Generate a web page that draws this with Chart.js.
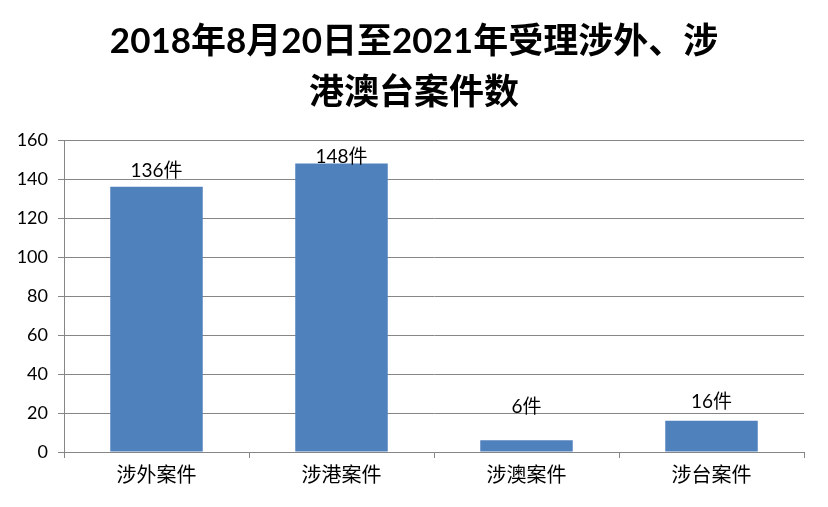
<!DOCTYPE html>
<html>
<head>
<meta charset="utf-8">
<script src="https://cdn.jsdelivr.net/npm/chart.js@4/dist/chart.umd.min.js"></script>
<style>
html,body{margin:0;padding:0;background:#fff;}
#wrap{width:828px;height:507px;}
</style>
</head>
<body>
<div id="wrap"><canvas id="c" width="828" height="507"></canvas></div>
<script>
const titleLines = ['2018年8月20日至2021年受理涉外、涉', '港澳台案件数'];
const categories = ['涉外案件', '涉港案件', '涉澳案件', '涉台案件'];
const caseCounts = [136, 148, 6, 16];
const labelSuffix = '件';
const yTicks = [0, 20, 40, 60, 80, 100, 120, 140, 160];

const FONT = 'Lato, "Noto Sans CJK SC", sans-serif';
const GRID = '#868686';
const labelLift = [16, 7, 33, 19];

const dataLabels = {
  id: 'dataLabels',
  afterDatasetsDraw(chart) {
    const ctx = chart.ctx;
    const meta = chart.getDatasetMeta(0);
    ctx.save();
    ctx.font = '19px ' + FONT;
    ctx.fillStyle = '#000';
    ctx.textAlign = 'center';
    ctx.textBaseline = 'middle';
    meta.data.forEach((bar, i) => {
      ctx.fillText(caseCounts[i] + labelSuffix, bar.x, bar.y - labelLift[i]);
    });
    ctx.restore();
  }
};

// Title centred on the whole canvas (as in the reference)
const pageTitle = {
  id: 'pageTitle',
  afterDraw(chart) {
    const ctx = chart.ctx;
    ctx.save();
    ctx.font = 'bold 35px ' + FONT;
    ctx.fillStyle = '#000';
    ctx.textAlign = 'center';
    ctx.textBaseline = 'middle';
    const cx = chart.width / 2;
    titleLines.forEach((t, i) => ctx.fillText(t, cx, 42 + i * 51));
    ctx.restore();
  }
};

const bg = {
  id: 'bg',
  beforeDraw(chart) {
    const ctx = chart.ctx;
    ctx.save();
    ctx.fillStyle = '#fff';
    ctx.fillRect(0, 0, chart.width, chart.height);
    ctx.restore();
  }
};

new Chart(document.getElementById('c'), {
  type: 'bar',
  data: {
    labels: categories,
    datasets: [{
      data: caseCounts,
      backgroundColor: '#4F81BD',
      borderWidth: 0,
      barPercentage: 0.5,
      categoryPercentage: 1.0
    }]
  },
  options: {
    responsive: false,
    animation: false,
    devicePixelRatio: 1,
    layout: { padding: { left: 0, right: 24, top: 140, bottom: 0 } },
    plugins: {
      legend: { display: false },
      tooltip: { enabled: false },
      title: { display: false }
    },
    scales: {
      x: {
        grid: {
          display: true,
          drawOnChartArea: false,
          drawTicks: true,
          tickLength: 6,
          color: GRID,
          offset: true
        },
        border: { display: true, color: GRID, width: 1 },
        ticks: {
          color: '#000',
          font: { family: FONT, size: 20 },
          padding: 6
        },
        afterFit(scale) { scale.height = 55; }
      },
      y: {
        min: 0,
        max: 160,
        afterBuildTicks(scale) { scale.ticks = yTicks.map(v => ({ value: v })); },
        grid: {
          color: GRID,
          tickLength: 6,
          drawTicks: true
        },
        border: { display: true, color: GRID, width: 1 },
        ticks: {
          color: '#000',
          font: { family: FONT, size: 18 },
          padding: 10
        },
        afterFit(scale) { scale.width = 64; }
      }
    }
  },
  plugins: [bg, dataLabels, pageTitle]
});
</script>
</body>
</html>
